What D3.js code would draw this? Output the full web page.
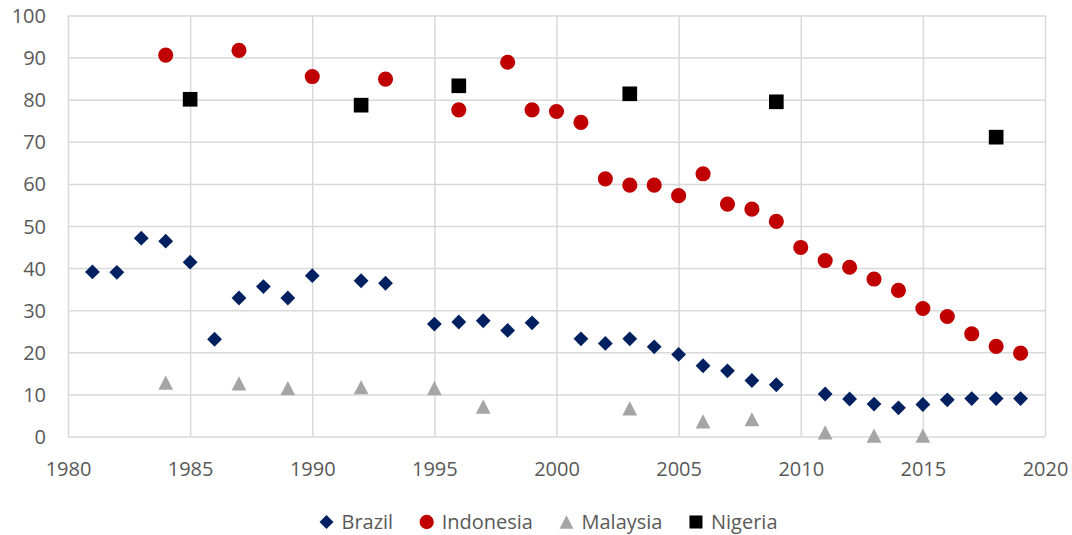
<!DOCTYPE html>
<html>
<head>
<meta charset="utf-8">
<script src="https://cdn.jsdelivr.net/npm/d3@7"></script>
<style>
  html, body { margin: 0; padding: 0; background: #fff; }
  svg text { font-family: "Open Sans", "Liberation Sans", sans-serif; fill: #595959; }
</style>
</head>
<body>
<svg id="chart" width="1072" height="535"></svg>
<script>
// Scatter data: [year, value]
const brazil = [
  [1981, 39.1], [1982, 39.0], [1983, 47.1], [1984, 46.4], [1985, 41.4],
  [1986, 23.1], [1987, 32.9], [1988, 35.6], [1989, 32.9], [1990, 38.2],
  [1992, 37.0], [1993, 36.4], [1995, 26.7], [1996, 27.2], [1997, 27.5],
  [1998, 25.2], [1999, 27.0], [2001, 23.2], [2002, 22.1], [2003, 23.2],
  [2004, 21.3], [2005, 19.5], [2006, 16.8], [2007, 15.6], [2008, 13.3],
  [2009, 12.3], [2011, 10.1], [2012, 8.9], [2013, 7.7], [2014, 6.8],
  [2015, 7.6], [2016, 8.7], [2017, 9.0], [2018, 9.0], [2019, 9.0]
];
const indonesia = [
  [1984, 90.6], [1987, 91.7], [1990, 85.5], [1993, 84.9], [1996, 77.6],
  [1998, 88.9], [1999, 77.6], [2000, 77.2], [2001, 74.6], [2002, 61.2],
  [2003, 59.7], [2004, 59.7], [2005, 57.2], [2006, 62.4], [2007, 55.2],
  [2008, 54.0], [2009, 51.1], [2010, 44.9], [2011, 41.8], [2012, 40.2],
  [2013, 37.4], [2014, 34.7], [2015, 30.4], [2016, 28.5], [2017, 24.4],
  [2018, 21.4], [2019, 19.8]
];
const malaysia = [
  [1984, 12.8], [1987, 12.6], [1989, 11.5], [1992, 11.7], [1995, 11.5],
  [1997, 7.1], [2003, 6.7], [2006, 3.6], [2008, 4.1], [2011, 1.0],
  [2013, 0.2], [2015, 0.2]
];
const nigeria = [
  [1985, 80.1], [1992, 78.7], [1996, 83.3], [2003, 81.4], [2009, 79.5], [2018, 71.1]
];

const xTicks = [1980, 1985, 1990, 1995, 2000, 2005, 2010, 2015, 2020];
const yTicks = [0, 10, 20, 30, 40, 50, 60, 70, 80, 90, 100];

// Triangle drawn centred on its bounding box, width ~ height
const boxTriangle = {
  draw(ctx, size) {
    const h = Math.sqrt(size) * 0.98, w = Math.sqrt(size) * 1.02;
    ctx.moveTo(0, -h / 2);
    ctx.lineTo(w / 2, h / 2);
    ctx.lineTo(-w / 2, h / 2);
    ctx.closePath();
  }
};

const series = [
  { name: "Brazil",    data: brazil,    color: "#002060", symbol: d3.symbolDiamond2, size: 140, legendSize: 125 },
  { name: "Indonesia", data: indonesia, color: "#c00000", symbol: d3.symbolCircle,   size: 180, legendSize: 160 },
  { name: "Malaysia",  data: malaysia,  color: "#a5a5a5", symbol: boxTriangle,       size: 210, legendSize: 185 },
  { name: "Nigeria",   data: nigeria,   color: "#000000", symbol: d3.symbolSquare,   size: 215, legendSize: 170 }
];

const svg = d3.select("#chart");
const margin = { left: 68, right: 1045, top: 15.5, bottom: 436.5 };

const x = d3.scaleLinear().domain([1980, 2020]).range([margin.left, margin.right]);
const y = d3.scaleLinear().domain([0, 100]).range([margin.bottom, margin.top]);

const grid = "#d9d9d9";

// Horizontal gridlines with value labels
const yAxis = svg.append("g")
  .attr("transform", `translate(${margin.left},0)`)
  .call(d3.axisLeft(y).tickValues(yTicks).tickSize(-(margin.right - margin.left)).tickPadding(22));
// Vertical gridlines with year labels
const xAxis = svg.append("g")
  .attr("transform", `translate(0,${margin.bottom})`)
  .call(d3.axisBottom(x).tickValues(xTicks).tickFormat(d3.format("d"))
    .tickSize(-(margin.bottom - margin.top)).tickPadding(35));

[yAxis, xAxis].forEach(g => {
  g.select(".domain").remove();
  g.selectAll(".tick line").attr("stroke", grid).attr("stroke-width", 1.5);
  g.selectAll(".tick text").style("font-size", "20px").attr("fill", "#595959");
});
yAxis.selectAll(".tick text").attr("dy", "0.35em");
xAxis.selectAll(".tick text").attr("dy", "0.2em");

// Markers
series.forEach(s => {
  const sym = d3.symbol().type(s.symbol).size(s.size);
  svg.append("g").selectAll("path")
    .data(s.data)
    .join("path")
    .attr("d", sym)
    .attr("fill", s.color)
    .attr("transform", d => `translate(${x(d[0])},${y(d[1])})`);
});

// Legend: symbol, label, then a gap before the next entry
const legend = svg.append("g");
const gap = 33.5, textOffset = 15;
let cx = 0;
series.forEach(s => {
  const item = legend.append("g").attr("transform", `translate(${cx},0)`);
  item.append("path")
    .attr("d", d3.symbol().type(s.symbol).size(s.legendSize))
    .attr("fill", s.color);
  const t = item.append("text")
    .attr("x", textOffset)
    .attr("dy", "0.35em")
    .style("font-size", "20px")
    .text(s.name);
  cx += textOffset + t.node().getComputedTextLength() + gap;
});
const totalW = cx - gap + 7;
legend.attr("transform", `translate(${548.5 - totalW / 2 + 7},522)`);
</script>
</body>
</html>
